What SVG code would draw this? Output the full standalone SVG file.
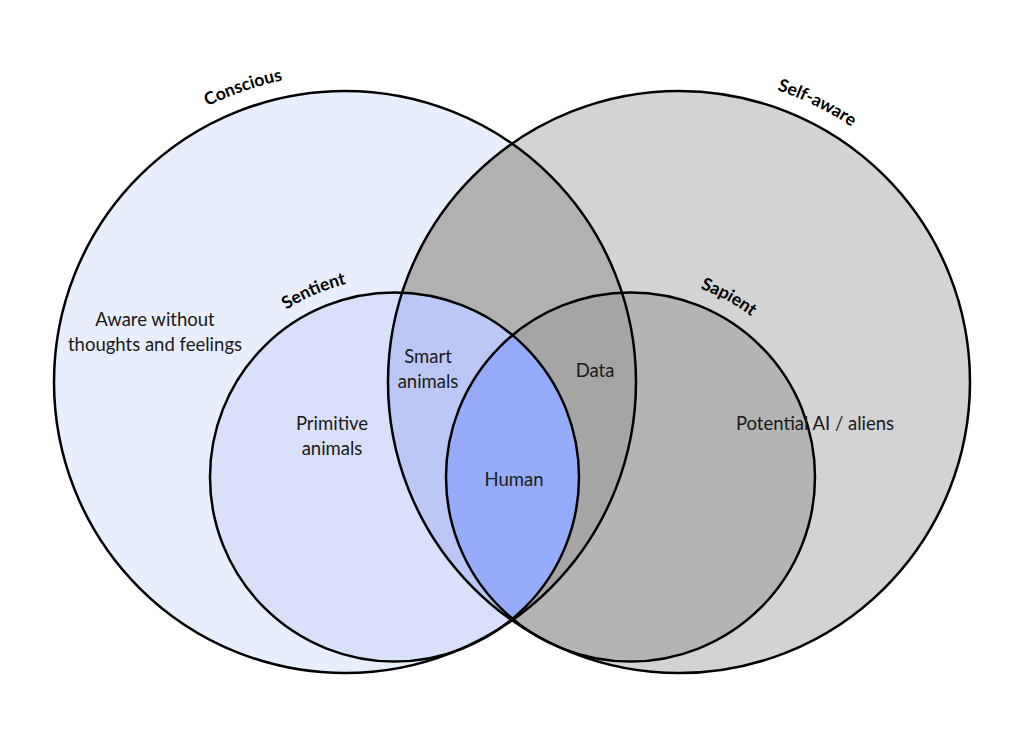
<svg xmlns="http://www.w3.org/2000/svg" width="1024" height="742" viewBox="0 0 1024 742">
  <style>
    .ring { fill: none; stroke: #000; stroke-width: 2.5; }
    .lbl { font-family: Lato, "Liberation Sans", sans-serif; font-weight: bold; font-size: 17.5px; fill: #000; }
    .txt { font-family: Lato, "Liberation Sans", sans-serif; font-size: 18.5px; fill: #1a1a1a; text-anchor: middle; }
  </style>
  <defs>
    <clipPath id="clipC"><circle cx="345" cy="382" r="291"/></clipPath>
    <clipPath id="clipS"><circle cx="679" cy="382" r="291"/></clipPath>
    <clipPath id="clipP"><circle cx="630.5" cy="477" r="184.5"/></clipPath>
    <path id="arcC" d="M37,382 A308,308 0 0 1 653,382"/>
    <path id="arcS" d="M371,382 A308,308 0 0 1 987,382"/>
    <path id="arcT" d="M195.5,477 A199,199 0 0 1 593.5,477"/>
    <path id="arcP" d="M429.5,477 A201,201 0 0 1 831.5,477"/>
  </defs>
  <rect width="1024" height="742" fill="#fff"/>
  <g id="regions">
    <circle cx="345" cy="382" r="291" fill="#E9EEFC"/>
    <circle cx="679" cy="382" r="291" fill="#D3D3D3"/>
    <circle cx="679" cy="382" r="291" fill="#B1B1B1" clip-path="url(#clipC)"/>
    <circle cx="394.5" cy="477" r="184.5" fill="#D9E0F9"/>
    <circle cx="394.5" cy="477" r="184.5" fill="#BBC8F5" clip-path="url(#clipS)"/>
    <circle cx="630.5" cy="477" r="184.5" fill="#B4B4B4"/>
    <circle cx="630.5" cy="477" r="184.5" fill="#A5A5A5" clip-path="url(#clipC)"/>
    <circle cx="394.5" cy="477" r="184.5" fill="#96ABF9" clip-path="url(#clipP)"/>
  </g>
  <g id="conscious">
    <circle class="ring" cx="345" cy="382" r="291"/>
    <text class="lbl"><textPath href="#arcC" startOffset="381" text-anchor="middle">Conscious</textPath></text>
    <text class="txt" x="155" y="326">Aware without</text>
    <text class="txt" x="155" y="351">thoughts and feelings</text>
  </g>
  <g id="self-aware">
    <circle class="ring" cx="679" cy="382" r="291"/>
    <text class="lbl"><textPath href="#arcS" startOffset="625" text-anchor="middle">Self-aware</textPath></text>
  </g>
  <g id="sentient">
    <circle class="ring" cx="394.5" cy="477" r="184.5"/>
    <text class="lbl"><textPath href="#arcT" startOffset="231" text-anchor="middle">Sentient</textPath></text>
    <text class="txt" x="332" y="430">Primitive</text>
    <text class="txt" x="332" y="455">animals</text>
  </g>
  <g id="sapient">
    <circle class="ring" cx="630.5" cy="477" r="184.5"/>
    <text class="lbl"><textPath href="#arcP" startOffset="416" text-anchor="middle">Sapient</textPath></text>
    <text class="txt" x="815" y="430">Potential AI / aliens</text>
  </g>
  <g id="smart-animals">
    <text class="txt" x="428" y="363">Smart</text>
    <text class="txt" x="428" y="388">animals</text>
  </g>
  <g id="data">
    <text class="txt" x="595" y="377">Data</text>
  </g>
  <g id="human">
    <text class="txt" x="514" y="486">Human</text>
  </g>
</svg>
